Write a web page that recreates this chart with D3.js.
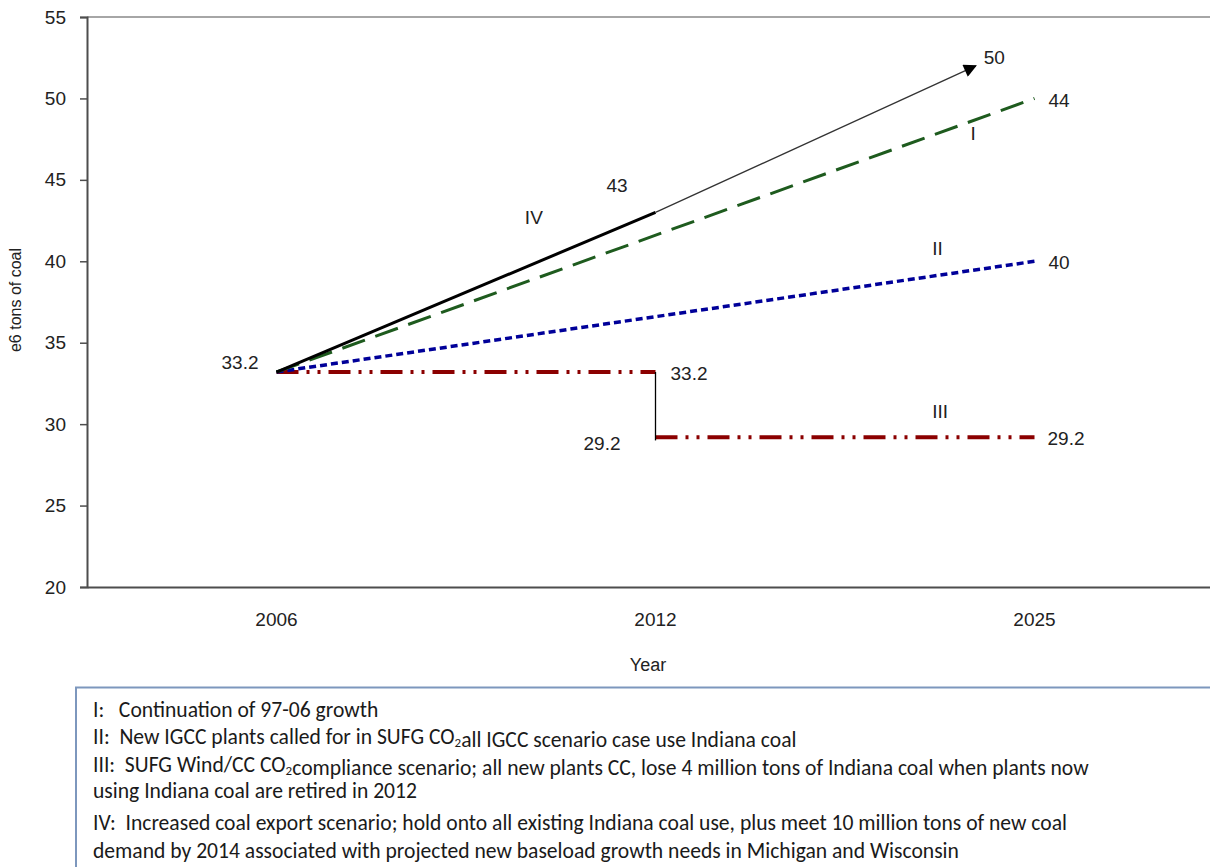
<!DOCTYPE html>
<html>
<head>
<meta charset="utf-8">
<script src="https://cdn.jsdelivr.net/npm/d3@7"></script>
<style>
  html, body { margin: 0; padding: 0; background: #fff; }
  svg { display: block; }
</style>
</head>
<body>
<svg id="chart" width="1210" height="867"></svg>
<script>
// ---- data ----
const years = ["2006", "2012", "2025"];
const yTicks = [20, 25, 30, 35, 40, 45, 50, 55];
const seriesI = [33.2, 50];            // 2006 -> 2025 (green long dash)
const seriesII = [33.2, 40];           // 2006 -> 2025 (blue short dash)
const seriesIIIa = [33.2, 33.2];       // 2006 -> 2012 (red dash-dot-dot)
const seriesIIIb = [29.2, 29.2];       // 2012 -> 2025
const seriesIV = [33.2, 43];           // 2006 -> 2012 (black thick)
const seriesIVext = { idx: 1.845, value: 52 }; // arrow head end point
const pointLabels = [
  { text: "50", idx: 1.845, value: 52, dx: 8, dy: -2, anchor: "start" },
  { text: "44", idx: 2, value: 50, dx: 14, dy: 9, anchor: "start" },
  { text: "43", idx: 1, value: 43, dx: -49, dy: -20, anchor: "start" },
  { text: "40", idx: 2, value: 40, dx: 14, dy: 8, anchor: "start" },
  { text: "33.2", idx: 0, value: 33.2, dx: -18, dy: -3, anchor: "end" },
  { text: "33.2", idx: 1, value: 33.2, dx: 15, dy: 8, anchor: "start" },
  { text: "29.2", idx: 1, value: 29.2, dx: -35, dy: 13, anchor: "end" },
  { text: "29.2", idx: 2, value: 29.2, dx: 13, dy: 8, anchor: "start" }
];
const romanLabels = [
  { text: "I", idx: 1.838, value: 47.45 },
  { text: "II", idx: 1.744, value: 40.4 },
  { text: "III", idx: 1.751, value: 30.4 },
  { text: "IV", idx: 0.679, value: 42.3 }
];
const legendLines = [
  [["I:   Continuation of 97-06 growth"]],
  [["II:  New IGCC plants called for in SUFG CO"], ["2", "sub"], ["all IGCC scenario case use Indiana coal"]],
  [["III:  SUFG Wind/CC CO"], ["2", "sub"], ["compliance scenario; all new plants CC, lose 4 million tons of Indiana coal when plants now"]],
  [["using Indiana coal are retired in 2012"]],
  [["IV:  Increased coal export scenario; hold onto all existing Indiana coal use, plus meet 10 million tons of new coal"]],
  [["demand by 2014 associated with projected new baseload growth needs in Michigan and Wisconsin"]]
];

// ---- layout ----
const svg = d3.select("#chart");
const plotLeft = 87, plotTop = 17, plotBottom = 587, rightEdge = 1210;
const xb = d3.scaleBand().domain(years).range([plotLeft, 1224]);
const xc = d => xb(d) + xb.bandwidth() / 2;
const xi = d3.scaleLinear().domain([0, 2]).range([xc(years[0]), xc(years[2])]);
const y = d3.scaleLinear().domain([20, 55]).range([plotBottom, plotTop]);
const chartFont = "'Liberation Sans', Arial, sans-serif";

// top gridline (55)
svg.append("line")
  .attr("x1", plotLeft).attr("x2", rightEdge)
  .attr("y1", y(55)).attr("y2", y(55))
  .attr("stroke", "#a6a6a6").attr("stroke-width", 2);

// y axis
const yAxis = svg.append("g")
  .attr("transform", `translate(${plotLeft},0)`)
  .call(d3.axisLeft(y).tickValues(yTicks).tickSize(7).tickPadding(14).tickFormat(d3.format("d")));
yAxis.select(".domain").attr("stroke", "#4d4d4d").attr("stroke-width", 2);
yAxis.selectAll(".tick line").attr("stroke", "#4d4d4d").attr("stroke-width", 1.5);
yAxis.selectAll(".tick text").attr("font-family", chartFont).attr("font-size", 19).attr("fill", "#222");

// x axis
const xAxis = svg.append("g")
  .attr("transform", `translate(0,${plotBottom})`)
  .call(d3.axisBottom(xb).tickSize(0).tickPadding(26));
xAxis.select(".domain").attr("stroke", "#4d4d4d").attr("stroke-width", 2);
xAxis.selectAll(".tick text").attr("font-family", chartFont).attr("font-size", 19).attr("fill", "#222");

// axis titles
svg.append("text").attr("x", 648).attr("y", 671)
  .attr("text-anchor", "middle").attr("font-family", chartFont).attr("font-size", 18).attr("fill", "#222")
  .text("Year");
svg.append("text").attr("transform", `translate(21,300) rotate(-90)`)
  .attr("text-anchor", "middle").attr("font-family", chartFont).attr("font-size", 16).attr("fill", "#222")
  .text("e6 tons of coal");

// marker
svg.append("defs").append("marker")
  .attr("id", "arrow").attr("viewBox", "0 0 10 10")
  .attr("refX", 9).attr("refY", 5)
  .attr("markerWidth", 16).attr("markerHeight", 13)
  .attr("markerUnits", "userSpaceOnUse")
  .attr("orient", "auto")
  .append("path").attr("d", "M0,0 L10,5 L0,10 z").attr("fill", "#000");

const line = d3.line().x(d => xi(d[0])).y(d => y(d[1]));

// III red dash-dot-dot
const redDash = "22 8 3 8 3 8";
svg.append("path").datum([[0, seriesIIIa[0]], [1, seriesIIIa[1]]])
  .attr("d", line).attr("fill", "none").attr("stroke", "#8b0000")
  .attr("stroke-width", 4).attr("stroke-dasharray", redDash);
svg.append("path").datum([[1, seriesIIIb[0]], [2, seriesIIIb[1]]])
  .attr("d", line).attr("fill", "none").attr("stroke", "#8b0000")
  .attr("stroke-width", 4).attr("stroke-dasharray", redDash);
// connector
svg.append("path").datum([[1, seriesIIIa[1]], [1, seriesIIIb[0] - 0.2]])
  .attr("d", line).attr("fill", "none").attr("stroke", "#000").attr("stroke-width", 1.3);

// II blue short dash
svg.append("path").datum([[0, seriesII[0]], [2, seriesII[1]]])
  .attr("d", line).attr("fill", "none").attr("stroke", "#000099")
  .attr("stroke-width", 3.5).attr("stroke-dasharray", "7 4");

// I green long dash
svg.append("path").datum([[0, seriesI[0]], [2, seriesI[1]]])
  .attr("d", line).attr("fill", "none").attr("stroke", "#1e5b1e")
  .attr("stroke-width", 3).attr("stroke-dasharray", "24 11");

// IV black thin extension with arrow
svg.append("path").datum([[1, seriesIV[1]], [seriesIVext.idx, seriesIVext.value]])
  .attr("d", line).attr("fill", "none").attr("stroke", "#333")
  .attr("stroke-width", 1.3).attr("marker-end", "url(#arrow)");
// IV black thick
svg.append("path").datum([[0, seriesIV[0]], [1, seriesIV[1]]])
  .attr("d", line).attr("fill", "none").attr("stroke", "#000")
  .attr("stroke-width", 3);

// point labels
svg.selectAll("text.pl").data(pointLabels).enter().append("text")
  .attr("class", "pl")
  .attr("x", d => xi(d.idx) + d.dx).attr("y", d => y(d.value) + d.dy)
  .attr("text-anchor", d => d.anchor)
  .attr("font-family", chartFont).attr("font-size", 19).attr("fill", "#222")
  .text(d => d.text);

svg.selectAll("text.rl").data(romanLabels).enter().append("text")
  .attr("class", "rl")
  .attr("x", d => xi(d.idx)).attr("y", d => y(d.value))
  .attr("text-anchor", "middle")
  .attr("font-family", chartFont).attr("font-size", 19).attr("fill", "#222")
  .text(d => d.text);

// legend box
svg.append("rect")
  .attr("x", 76).attr("y", 687.5).attr("width", 1150).attr("height", 200)
  .attr("fill", "#fff").attr("stroke", "#7d97bd").attr("stroke-width", 2);

const legendFont = "Carlito, Calibri, 'Liberation Sans Narrow', 'Open Sans', sans-serif";
const baselines = [717, 744, 772, 798, 830, 858];
legendLines.forEach((segs, i) => {
  const t = svg.append("text").attr("x", 93).attr("y", baselines[i])
    .attr("font-family", legendFont).attr("font-size", 21.6).attr("fill", "#1a1a1a")
    .attr("xml:space", "preserve");
  segs.forEach(s => {
    if (s[1] === "sub") {
      t.append("tspan").attr("font-size", 13).attr("dy", 3).text(s[0]);
      t.append("tspan").attr("dy", -3).text("");
    } else {
      t.append("tspan").text(s[0]);
    }
  });
});
</script>
</body>
</html>
